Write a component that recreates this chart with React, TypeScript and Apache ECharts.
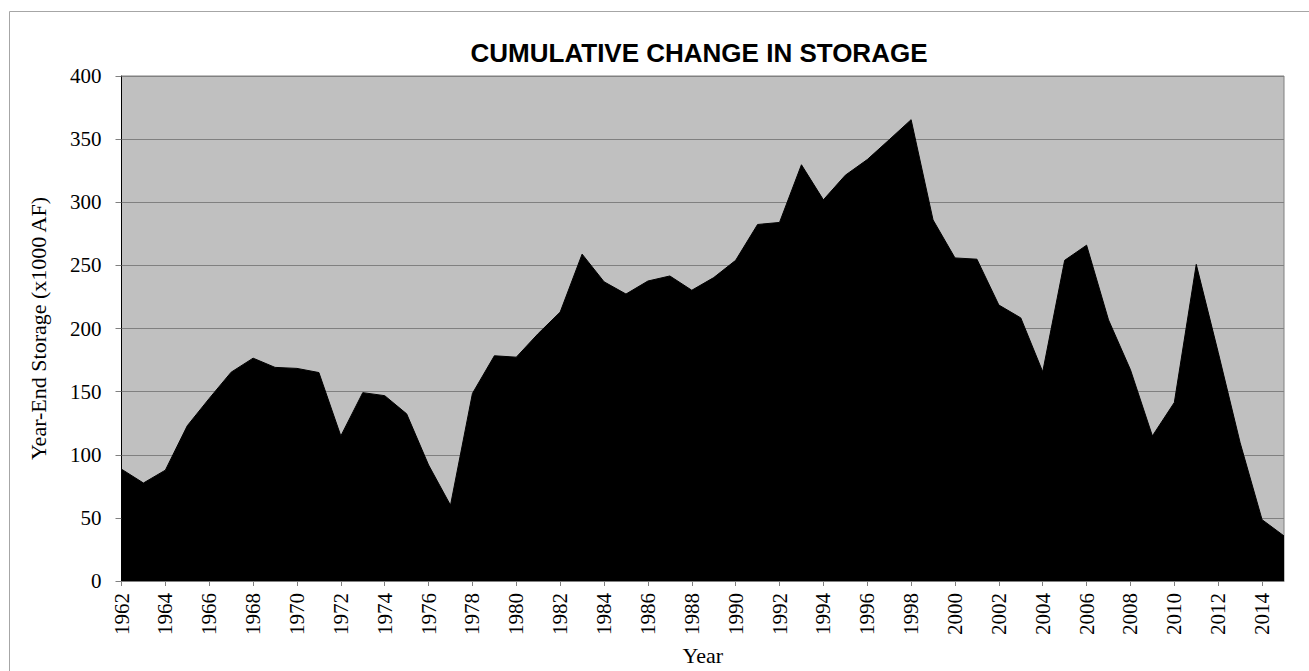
import React, { useEffect, useRef } from "react";
import * as echarts from "echarts";

const years: string[] = [];
for (let y = 1962; y <= 2015; y++) years.push(String(y));

const storage: number[] = [
  88.6, 77.6, 87.8, 123, 144.6, 165.4, 176.5, 169.2, 168.4, 165.1,
  114.9, 149.2, 146.8, 132.4, 91.9, 60, 148.6, 178.4, 177.3, 196,
  213, 258.9, 237, 227.3, 237.6, 241.6, 230.3, 240.3, 254, 282.4,
  284, 329.7, 301.9, 321.4, 333.8, 349.5, 365.4, 286, 255.9, 254.9,
  218.6, 208.4, 165.7, 254, 266, 206.8, 167.3, 114.9, 141.4, 250.8,
  181.1, 109.5, 48.6, 35.7,
];

const TITLE = "CUMULATIVE CHANGE IN STORAGE";
const Y_NAME = "Year-End Storage (x1000 AF)";
const X_NAME = "Year";

export default function App() {
  const ref = useRef<HTMLDivElement>(null);
  useEffect(() => {
    if (!ref.current) return;
    const chart = echarts.init(ref.current, undefined, { renderer: "svg" });
    const serif = "'Liberation Serif', 'Times New Roman', serif";
    chart.setOption({
      animation: false,
      backgroundColor: "#ffffff",
      title: {
        text: TITLE,
        left: 694,
        top: 35,
        textAlign: "center",
        textStyle: {
          fontFamily: "'Liberation Sans', Arial, sans-serif",
          fontWeight: "bold",
          fontSize: 26,
          color: "#000",
        },
      },
      graphic: [
        {
          type: "rect",
          shape: { x: 9.5, y: 11.5, width: 1400, height: 700 },
          style: { fill: "none", stroke: "#a6a6a6", lineWidth: 1 },
          silent: true,
        },
      ],
      grid: {
        left: 121.5,
        right: 25,
        top: 76,
        bottom: 85,
        show: true,
        backgroundColor: "#c0c0c0",
        borderColor: "#808080",
        borderWidth: 1,
      },
      xAxis: {
        type: "category",
        data: years,
        boundaryGap: false,
        name: X_NAME,
        nameLocation: "middle",
        nameGap: 63,
        nameTextStyle: { fontFamily: serif, fontSize: 22, color: "#000" },
        axisLine: { show: true, lineStyle: { color: "#808080", width: 1 } },
        axisTick: { show: true, interval: 1, length: 5, lineStyle: { color: "#808080" } },
        axisLabel: {
          interval: 1,
          rotate: 90,
          margin: 12,
          fontFamily: serif,
          fontSize: 21,
          color: "#000",
        },
        splitLine: { show: false },
      },
      yAxis: {
        type: "value",
        min: 0,
        max: 400,
        interval: 50,
        name: Y_NAME,
        nameLocation: "middle",
        nameRotate: 90,
        nameGap: 72,
        nameTextStyle: { fontFamily: serif, fontSize: 22, color: "#000" },
        axisLine: { show: true, lineStyle: { color: "#000", width: 1 } },
        axisTick: { show: true, length: 6, lineStyle: { color: "#808080" } },
        axisLabel: { margin: 20, fontFamily: serif, fontSize: 21, color: "#000" },
        splitLine: { show: true, lineStyle: { color: "#808080", width: 1 } },
      },
      series: [
        {
          type: "line",
          data: storage,
          symbol: "none",
          lineStyle: { color: "#000", width: 1 },
          itemStyle: { color: "#000" },
          areaStyle: { color: "#000", opacity: 1 },
          z: 3,
        },
      ],
    });
    return () => chart.dispose();
  }, []);
  return (
    <div
      ref={ref}
      style={{ position: "absolute", left: 0, top: 0, width: 1309, height: 671 }}
    />
  );
}
